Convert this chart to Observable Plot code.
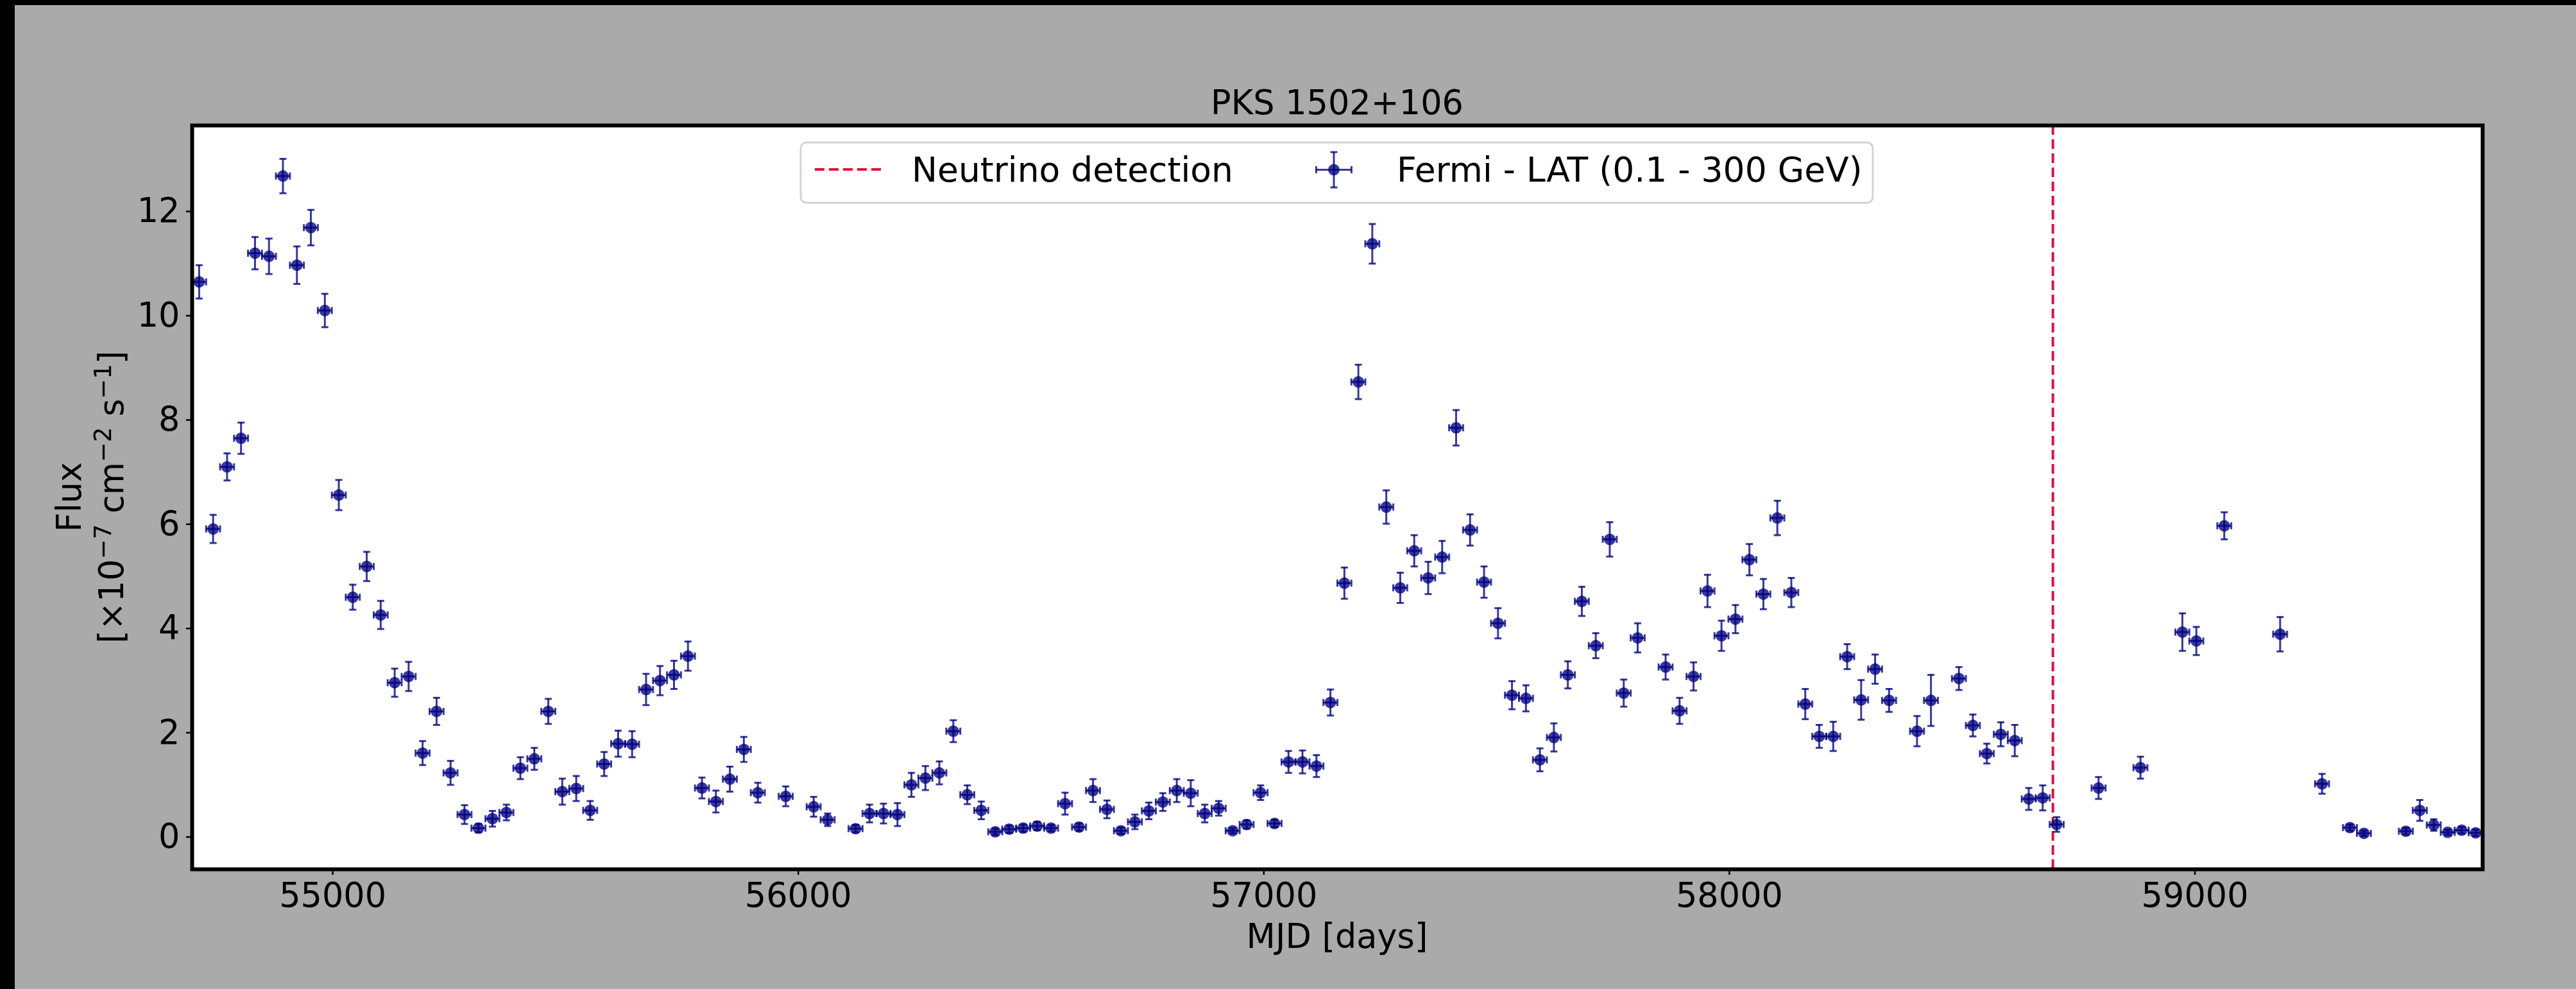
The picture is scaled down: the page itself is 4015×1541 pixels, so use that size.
<!DOCTYPE html>
<html><head><meta charset="utf-8">
<script src="https://cdn.jsdelivr.net/npm/d3@7"></script>
<script src="https://cdn.jsdelivr.net/npm/@observablehq/plot@0.6"></script>
<style>
html,body{margin:0;padding:0;background:#000;width:4015px;height:1541px;overflow:hidden;}
#fig{position:absolute;left:23px;top:8px;width:3992px;height:1533px;background:#aaaaaa;}
</style></head><body><div id="fig"></div>
<script>
// ---- data ----
const mjd = [54713,54743,54773,54803,54833,54863,54893,54923,54953,54983,
55013,55043,55073,55103,55133,55163,55193,55223,55253,55283,
55313,55343,55373,55403,55433,55463,55493,55523,55553,55583,
55613,55643,55673,55703,55733,55763,55793,55823,55853,55883,
55913,55973,56033,56063,56123,56153,56183,56213,56243,56273,
56303,56333,56363,56393,56423,56453,56483,56513,56543,56573,
56603,56633,56663,56693,56723,56753,56783,56813,56843,56873,
56903,56933,56963,56993,57023,57053,57083,57113,57143,57173,
57203,57233,57263,57293,57323,57353,57383,57413,57443,57473,
57503,57533,57563,57593,57623,57653,57683,57713,57743,57773,
57803,57863,57893,57923,57953,57983,58013,58043,58073,58103,
58133,58163,58193,58223,58253,58283,58313,58343,58403,58433,
58493,58523,58553,58583,58613,58643,58673,58703,58793,58883,
58973,59003,59063,59183,59273,59333,59363,59453,59483,59513,
59543,59573,59603];
const flux = [10.65,5.91,7.10,7.65,11.20,11.14,12.68,10.97,11.69,10.10,
6.56,4.60,5.19,4.26,2.96,3.08,1.61,2.41,1.23,0.43,
0.17,0.35,0.47,1.32,1.50,2.41,0.87,0.93,0.51,1.40,
1.79,1.78,2.83,3.00,3.11,3.47,0.94,0.68,1.11,1.68,
0.85,0.78,0.58,0.33,0.16,0.45,0.45,0.43,1.00,1.13,
1.23,2.03,0.81,0.51,0.10,0.15,0.17,0.21,0.17,0.64,
0.19,0.89,0.53,0.12,0.29,0.50,0.67,0.89,0.84,0.45,
0.55,0.12,0.24,0.85,0.26,1.44,1.44,1.36,2.58,4.87,
8.73,11.38,6.33,4.78,5.49,4.97,5.37,7.85,5.89,4.89,
4.10,2.72,2.66,1.48,1.91,3.11,4.52,3.67,5.71,2.76,
3.82,3.26,2.42,3.08,4.72,3.86,4.18,5.32,4.66,6.12,
4.69,2.55,1.93,1.93,3.46,2.63,3.22,2.62,2.03,2.62,
3.04,2.14,1.60,1.97,1.85,0.73,0.75,0.24,0.94,1.33,
3.93,3.76,5.97,3.89,1.02,0.18,0.07,0.11,0.51,0.23,
0.09,0.13,0.08];
const fluxErr = [0.32,0.27,0.26,0.30,0.31,0.34,0.33,0.36,0.34,0.32,
0.29,0.24,0.28,0.27,0.27,0.28,0.23,0.26,0.23,0.18,
0.08,0.15,0.15,0.21,0.21,0.24,0.25,0.24,0.18,0.23,
0.25,0.25,0.30,0.28,0.27,0.28,0.20,0.21,0.24,0.24,
0.19,0.19,0.19,0.12,0.07,0.17,0.19,0.22,0.23,0.23,
0.22,0.21,0.18,0.17,0.06,0.07,0.07,0.08,0.06,0.21,
0.07,0.22,0.17,0.06,0.14,0.16,0.17,0.22,0.25,0.17,
0.14,0.05,0.08,0.14,0.07,0.21,0.22,0.21,0.25,0.30,
0.33,0.38,0.32,0.29,0.30,0.31,0.31,0.34,0.30,0.30,
0.29,0.27,0.25,0.22,0.27,0.26,0.28,0.24,0.33,0.26,
0.28,0.24,0.25,0.27,0.31,0.29,0.27,0.30,0.29,0.33,
0.28,0.29,0.22,0.28,0.24,0.38,0.28,0.22,0.29,0.49,
0.22,0.21,0.19,0.23,0.30,0.21,0.24,0.14,0.21,0.21,
0.36,0.27,0.26,0.33,0.19,0.06,0.05,0.06,0.20,0.11,
0.05,0.06,0.06];
const halfBin = 15;                  // days, half width of each time bin
const neutrinoMJD = [58694.87];
const xTicks = [55000, 56000, 57000, 58000, 59000];
const yTicks = [0, 2, 4, 6, 8, 10, 12];
const titleText = "PKS 1502+106";
const xLabelText = "MJD [days]";
const legendLabels = ["Neutrino detection", "Fermi - LAT (0.1 - 300 GeV)"];

// ---- build ----
const data = mjd.map((m, i) => ({mjd: m, flux: flux[i], err: fluxErr[i]}));
const W = 3992, H = 1533;
const mL = 276, mR = 146, mT = 187, mB = 187;
const FONT = "DejaVu Sans";
const FS = 52.5, LFS = 53.5;
const NAVY = "#000080", OP = 0.78;

const hcap = {draw(ctx, size){ const r = Math.sqrt(size / Math.PI); ctx.moveTo(-r, 0); ctx.lineTo(r, 0); }};
const vcap = {draw(ctx, size){ const r = Math.sqrt(size / Math.PI); ctx.moveTo(0, -r); ctx.lineTo(0, r); }};

const capStyle = {r: 5.5, fill: "none", stroke: NAVY, strokeOpacity: OP, strokeWidth: 3};

const chart = Plot.plot({
  width: W, height: H,
  marginLeft: mL, marginRight: mR, marginTop: mT, marginBottom: mB,
  style: {background: "transparent", fontFamily: FONT, fontSize: FS + "px", color: "black", overflow: "visible"},
  x: {domain: [54698, 59618]},
  y: {domain: [-0.62, 13.65]},
  marks: [
    Plot.frame({fill: "white", stroke: null}),
    Plot.ruleX(neutrinoMJD, {x: d => d, stroke: "crimson", strokeWidth: 4, strokeDasharray: "15,7"}),
    Plot.dot(data, {x: "mjd", y: "flux", r: 9, fill: NAVY, fillOpacity: OP, stroke: null}),
    Plot.ruleX(data, {x: "mjd", y1: d => d.flux - d.err, y2: d => d.flux + d.err, stroke: NAVY, strokeOpacity: OP, strokeWidth: 3}),
    Plot.ruleY(data, {y: "flux", x1: d => d.mjd - halfBin, x2: d => d.mjd + halfBin, stroke: NAVY, strokeOpacity: OP, strokeWidth: 3}),
    Plot.dot(data, {x: "mjd", y: d => d.flux + d.err, symbol: hcap, ...capStyle}),
    Plot.dot(data, {x: "mjd", y: d => d.flux - d.err, symbol: hcap, ...capStyle}),
    Plot.dot(data, {x: d => d.mjd - halfBin, y: "flux", symbol: vcap, ...capStyle}),
    Plot.dot(data, {x: d => d.mjd + halfBin, y: "flux", symbol: vcap, ...capStyle}),
    Plot.axisX({ticks: xTicks, tickFormat: d => String(d), tickSize: 9, tickPadding: 12, strokeWidth: 2.5, fontSize: FS, label: null}),
    Plot.axisY({ticks: yTicks, tickFormat: d => String(d), tickSize: 9, tickPadding: 10, strokeWidth: 2.5, fontSize: FS, label: null}),
    Plot.frame({stroke: "black", strokeWidth: 6})
  ]
});

const svg = d3.select(chart);
const cx = (mL + (W - mR)) / 2, cy = (mT + (H - mB)) / 2;
const txt = (g, x, y, s, anchor = "middle", fs = FS) => g.append("text")
  .attr("x", x).attr("y", y).attr("text-anchor", anchor)
  .attr("font-family", FONT).attr("font-size", fs).attr("fill", "black").text(s);

// title and x label
txt(svg, cx, mT - 17, titleText);
txt(svg, cx, H - mB + 123, xLabelText);

// y label (two lines, rotated)
svg.append("text").attr("transform", `translate(103,${cy}) rotate(-90)`)
  .attr("text-anchor", "middle").attr("font-family", FONT).attr("font-size", FS).text("Flux");
const yl2 = svg.append("text").attr("transform", `translate(169,${cy}) rotate(-90)`)
  .attr("text-anchor", "middle").attr("font-family", FONT).attr("font-size", FS)
  .attr("style", "white-space:pre");
const parts = [["[×10", false], ["−7", true], [" cm", false], ["−2", true], [" s", false], ["−1", true], ["]", false]];
let up = false;
for (const [s, sup] of parts) {
  const t = yl2.append("tspan").text(s);
  if (sup && !up) { t.attr("dy", -19).attr("font-size", 37); up = true; }
  else if (sup) { t.attr("font-size", 37); }
  else if (up) { t.attr("dy", 19); up = false; }
}

// legend
const lg = svg.append("g");
lg.append("rect").attr("x", 1225).attr("y", 214).attr("width", 1671).attr("height", 94).attr("rx", 9)
  .attr("fill", "white").attr("fill-opacity", 0.8).attr("stroke", "#d4d4d4").attr("stroke-width", 3);
lg.append("line").attr("x1", 1247).attr("x2", 1354).attr("y1", 256).attr("y2", 256)
  .attr("stroke", "crimson").attr("stroke-width", 4).attr("stroke-dasharray", "15,7");
txt(lg, 1398, 275, legendLabels[0], "start", LFS);
const ex = 2056, ey = 256.5, ea = 27.5, ec = 5.5;
const eg = lg.append("g").attr("stroke", NAVY).attr("stroke-opacity", OP).attr("stroke-width", 3).attr("fill", "none");
eg.append("circle").attr("cx", ex).attr("cy", ey).attr("r", 9).attr("fill", NAVY).attr("fill-opacity", OP).attr("stroke", "none");
eg.append("line").attr("x1", ex - ea).attr("x2", ex + ea).attr("y1", ey).attr("y2", ey);
eg.append("line").attr("x1", ex).attr("x2", ex).attr("y1", ey - ea).attr("y2", ey + ea);
eg.append("line").attr("x1", ex - ec).attr("x2", ex + ec).attr("y1", ey - ea).attr("y2", ey - ea);
eg.append("line").attr("x1", ex - ec).attr("x2", ex + ec).attr("y1", ey + ea).attr("y2", ey + ea);
eg.append("line").attr("x1", ex - ea).attr("x2", ex - ea).attr("y1", ey - ec).attr("y2", ey + ec);
eg.append("line").attr("x1", ex + ea).attr("x2", ex + ea).attr("y1", ey - ec).attr("y2", ey + ec);
txt(lg, 2154, 275, legendLabels[1], "start", LFS);

document.getElementById("fig").appendChild(chart);
</script></body></html>
